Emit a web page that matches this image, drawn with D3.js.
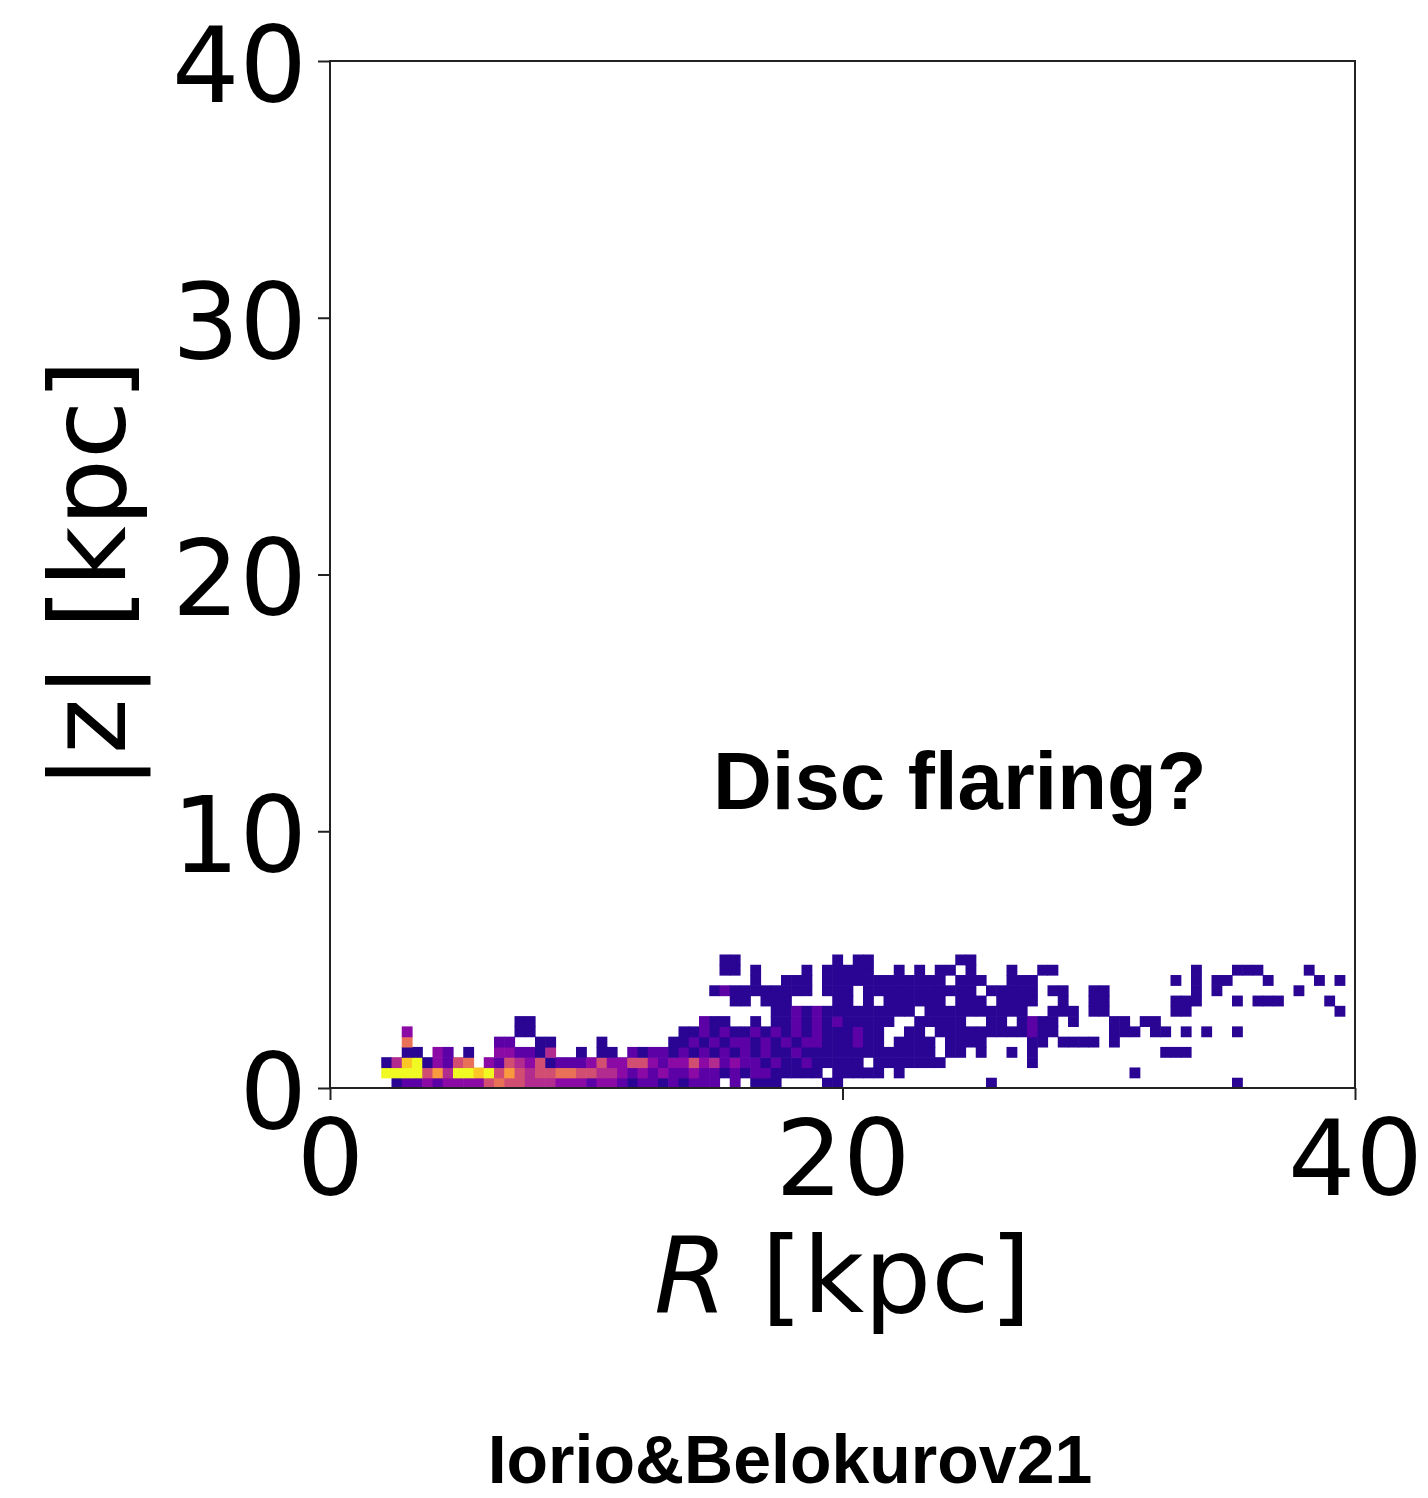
<!DOCTYPE html>
<html>
<head>
<meta charset="utf-8">
<script src="https://cdn.jsdelivr.net/npm/d3@7"></script>
<style>
  html, body { margin: 0; padding: 0; background: #fff; }
  svg { display: block; }
</style>
</head>
<body>
<svg id="chart" width="1428" height="1498"></svg>
<script>
// Axis ranges and ticks (kpc)
const xDomain = [0, 40];
const yDomain = [0, 40];
const xTicks = [0, 20, 40];
const yTicks = [0, 10, 20, 30, 40];
const binSize = 0.4; // kpc, same in R and |z|

// 2D histogram of stars in (R, |z|): one list per |z| bin (bottom up).
// Each entry: [first R bin, log-count levels 1..9 for consecutive R bins, '.' = empty]
const zBin0  = [[6, "12232333" + "35655444" + "33323321" + "22121222"], [39, "2.111....11"], [64, "1"], [88, "1"]];
const zBin1  = [[5, "99995749" + "98957545" + "56655443" + "23232232" + "21212211" + "111"], [48, ".11111.1"], [78, "1"]];
const zBin2  = [[5, "14891325" + "6.325435" + "12223533" + "55323353" + "42322121" + "1211111." + "1111111"], [68, "1"]];
const zBin3  = [[7, "11.32.1"], [16, "332214"], [24, "1"], [26, "11"],
                [29, "21221212" + "12121211" + "21111111" + "111111" + ".11.1"], [66, "1"], [68, "1"], [81, "111"]];
const zBin4  = [[7, "6"], [16, "22"], [20, "11"], [26, "1"],
                [33, "11212122" + "12121221" + "11211" + ".1111.1111"], [68, "11.1111.1"]];
const zBin5  = [[7, "3"], [18, "11"],
                [34, "11212112" + "12121211" + "1211..11" + ".1111111" + "11211"], [76, "111.11.1"], [85, "1"], [88, "1"]];
const zBin6  = [[18, "11"], [36, "211..1.1" + "12121211" + "111..111" + "11..11.1" + "211.1"], [76, "11.11"]];
const zBin7  = [[43, "11212111" + "111111.1" + "11111111" + "1"], [70, "111.11"], [82, "11"], [98, "1"]];
const zBin8  = [[39, "11.111.." + "..11.1.1" + "11111.11" + "1.1111"], [71, "1..11"], [82, "111...1.111....1"]];
const zBin9  = [[37, "12111111" + "11.111.1" + "11111111" + "11.11111"], [70, "11..11"], [84, "1.1.......1"]];
const zBin10 = [[41, "1"], [44, "111.1111" + "11111111" + ".111..111"], [82, "1.1.11...1....1.1"]];
const zBin11 = [[38, "11.1"], [46, "1"], [48, "11111"], [55, "1.1.11.1"], [66, "1"], [69, "11"], [84, "1...111....1"]];
const zBin12 = [[38, "11"], [49, "1.11"], [61, "11"]];

const zBins = [zBin0, zBin1, zBin2, zBin3, zBin4, zBin5, zBin6, zBin7, zBin8, zBin9, zBin10, zBin11, zBin12];

// Layout
const plot = { left: 330, right: 1355, top: 61, bottom: 1088 };
const tickFont = 106;

const svg = d3.select("#chart");
svg.append("rect").attr("width", 1428).attr("height", 1498).attr("fill", "#fff");

const x = d3.scaleLinear().domain(xDomain).range([plot.left, plot.right]);
const y = d3.scaleLinear().domain(yDomain).range([plot.bottom, plot.top]);
const color = d3.scaleSequential(d3.interpolatePlasma).domain([0.6, 9]);

// Flatten the histogram into cells
const cells = [];
zBins.forEach((runs, zi) => {
  runs.forEach(([start, levels]) => {
    for (let i = 0; i < levels.length; i++) {
      const ch = levels[i];
      if (ch === ".") continue;
      cells.push({ ri: start + i, zi: zi, level: +ch });
    }
  });
});

svg.append("g")
  .selectAll("rect")
  .data(cells)
  .join("rect")
  .attr("x", d => x(d.ri * binSize))
  .attr("y", d => y((d.zi + 1) * binSize))
  .attr("width", d => x((d.ri + 1) * binSize) - x(d.ri * binSize) + 0.6)
  .attr("height", d => y(d.zi * binSize) - y((d.zi + 1) * binSize) + 0.6)
  .attr("fill", d => color(d.level));

// Frame
svg.append("rect")
  .attr("x", plot.left).attr("y", plot.top)
  .attr("width", plot.right - plot.left).attr("height", plot.bottom - plot.top)
  .attr("fill", "none").attr("stroke", "#222").attr("stroke-width", 2);

// Axes
const xAxis = svg.append("g")
  .attr("transform", `translate(0,${plot.bottom})`)
  .call(d3.axisBottom(x).tickValues(xTicks).tickFormat(d3.format("d")).tickSize(12).tickSizeOuter(0).tickPadding(20));
const yAxis = svg.append("g")
  .attr("transform", `translate(${plot.left},0)`)
  .call(d3.axisLeft(y).tickValues(yTicks).tickFormat(d3.format("d")).tickSize(12).tickSizeOuter(0).tickPadding(11));

[xAxis, yAxis].forEach(g => {
  g.select(".domain").remove();
  g.selectAll(".tick line").attr("stroke", "#222").attr("stroke-width", 2);
  g.selectAll(".tick text")
    .attr("fill", "#000")
    .style("font-family", "'DejaVu Sans', sans-serif")
    .style("font-size", tickFont + "px");
});
yAxis.selectAll(".tick text").attr("dy", "0.38em");

// Axis labels
const xLabel = svg.append("text")
  .attr("x", (plot.left + plot.right) / 2)
  .attr("y", 1312)
  .attr("text-anchor", "middle")
  .style("font-family", "'DejaVu Sans', sans-serif")
  .style("font-size", tickFont + "px")
  .attr("fill", "#000");
xLabel.append("tspan").style("font-style", "italic").text("R");
xLabel.append("tspan").text(" [kpc]");

svg.append("text")
  .attr("transform", `translate(125,${(plot.top + plot.bottom) / 2}) rotate(-90)`)
  .attr("text-anchor", "middle")
  .style("font-family", "'DejaVu Sans', sans-serif")
  .style("font-size", tickFont + "px")
  .attr("fill", "#000")
  .text("|z| [kpc]");

// Annotations
svg.append("text")
  .attr("x", 713).attr("y", 809)
  .style("font-family", "'Liberation Sans', Arial, sans-serif")
  .style("font-weight", "bold")
  .style("font-size", "81.5px")
  .attr("fill", "#000")
  .text("Disc flaring?");

svg.append("text")
  .attr("x", 790).attr("y", 1483)
  .attr("text-anchor", "middle")
  .style("font-family", "'Liberation Sans', Arial, sans-serif")
  .style("font-weight", "bold")
  .style("font-size", "68px")
  .attr("fill", "#000")
  .text("Iorio&Belokurov21");
</script>
</body>
</html>
